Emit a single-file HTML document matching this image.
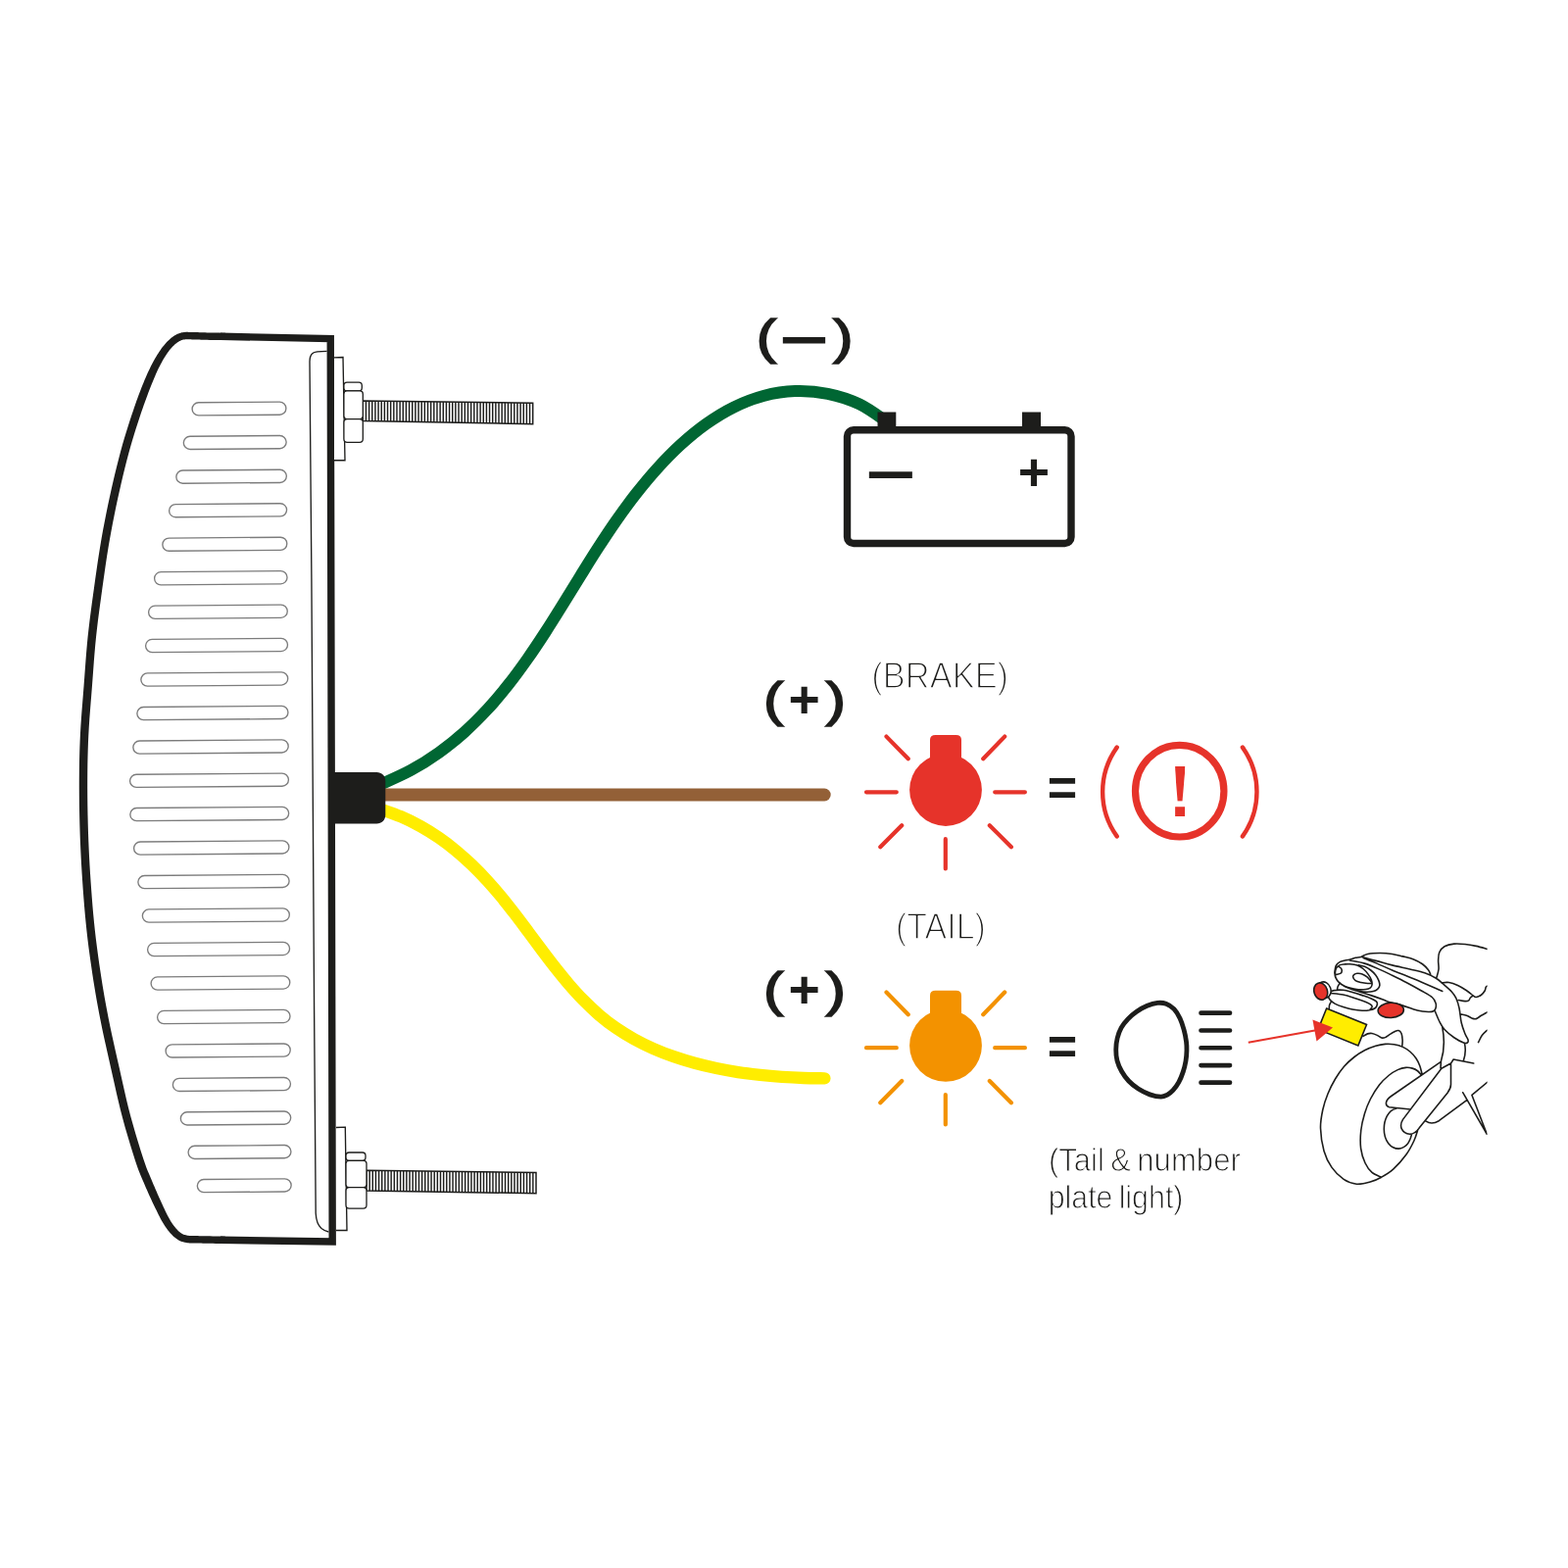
<!DOCTYPE html>
<html lang="en">
<head>
<meta charset="utf-8">
<title>Tail light wiring diagram</title>
<style>
html,body{margin:0;padding:0;background:#fff;}
body{width:1600px;height:1600px;overflow:hidden;font-family:"Liberation Sans",sans-serif;}
svg{display:block;}
</style>
</head>
<body>
<svg width="1600" height="1600" viewBox="0 0 1600 1600" style="will-change:transform">
<rect width="1600" height="1600" fill="#fff"/>
<path d="M339.2,1266.9 L337.25,345.6 L188,342.6 C150,360 95,600 85.4,800 C90,1000 150,1240 190,1264.5 Z" fill="#fff" stroke="none"/>
<path d="M230.06,339.68 L226.88,339.63 L223.63,339.58 L220.38,339.53 L217.21,339.48 L214.17,339.43 L211.33,339.38 L209.27,339.33 L207.3,339.28 L205.41,339.23 L203.58,339.17 L201.82,339.12 L200.1,339.08 L198.77,339.04 L197.47,338.99 L196.2,338.94 L194.95,338.91 L193.71,338.88 L192.48,338.88 L191.61,338.87 L190.71,338.86 L189.76,338.86 L188.75,338.89 L187.67,338.97 L186.52,339.14 L185.41,339.37 L184.3,339.66 L183.19,340 L182.09,340.4 L180.99,340.86 L179.9,341.38 L178.73,342.03 L177.6,342.73 L176.52,343.48 L175.46,344.27 L174.44,345.09 L173.45,345.93 L172.33,346.94 L171.24,347.99 L170.16,349.09 L169.11,350.23 L168.08,351.41 L167.06,352.63 L165.91,354.09 L164.77,355.62 L163.66,357.18 L162.58,358.79 L161.51,360.43 L160.46,362.08 L159.32,363.94 L158.21,365.85 L157.11,367.79 L156.03,369.77 L154.97,371.79 L153.92,373.84 L152.78,376.13 L151.67,378.48 L150.58,380.86 L149.51,383.27 L148.46,385.69 L147.43,388.11 L146.37,390.65 L145.32,393.21 L144.3,395.8 L143.3,398.39 L142.32,400.97 L141.36,403.54 L140.46,405.98 L139.6,408.34 L138.75,410.7 L137.89,413.15 L136.99,415.78 L136.02,418.67 L134.37,423.61 L132.57,429.1 L130.66,435.01 L128.71,441.2 L126.79,447.53 L124.96,453.86 L122.99,461.03 L121.05,468.41 L119.15,475.95 L117.29,483.61 L115.47,491.33 L113.7,499.08 L111.89,507.27 L110.12,515.58 L108.39,523.98 L106.73,532.41 L105.13,540.86 L103.61,549.27 L102.19,557.64 L100.86,566.01 L99.6,574.37 L98.38,582.73 L97.2,591.08 L96.04,599.42 L94.88,607.75 L93.73,616.09 L92.62,624.44 L91.55,632.8 L90.55,641.18 L89.62,649.56 L88.8,657.94 L88.08,666.31 L87.42,674.67 L86.8,683.02 L86.19,691.36 L85.56,699.68 L84.9,708.03 L84.22,716.42 L83.55,724.83 L82.92,733.22 L82.36,741.56 L81.9,749.8 L81.57,757.41 L81.3,764.87 L81.1,772.26 L80.95,779.68 L80.86,787.22 L80.8,794.98 L80.79,803.89 L80.84,813.06 L80.94,822.38 L81.11,831.75 L81.33,841.04 L81.6,850.14 L81.91,858.64 L82.28,867.04 L82.69,875.38 L83.15,883.67 L83.66,891.97 L84.21,900.29 L84.8,908.64 L85.43,917 L86.1,925.36 L86.84,933.73 L87.64,942.1 L88.53,950.46 L89.51,958.91 L90.57,967.43 L91.71,975.94 L92.9,984.36 L94.12,992.63 L95.35,1000.65 L96.46,1007.56 L97.57,1014.22 L98.7,1020.75 L99.89,1027.28 L101.14,1033.93 L102.48,1040.81 L104.12,1048.88 L105.87,1057.15 L107.71,1065.57 L109.6,1074.06 L111.51,1082.54 L113.4,1090.93 L115.27,1099.25 L117.12,1107.6 L119,1115.96 L120.94,1124.34 L122.97,1132.71 L125.14,1141.09 L127.57,1149.88 L130.23,1159.09 L132.98,1168.29 L135.69,1177.03 L138.22,1184.88 L140.44,1191.4 L141.45,1194.17 L142.38,1196.56 L143.25,1198.69 L144.1,1200.68 L144.94,1202.64 L145.82,1204.72 L146.82,1207.1 L147.85,1209.51 L148.9,1211.94 L149.96,1214.37 L151.03,1216.79 L152.11,1219.18 L153.17,1221.51 L154.24,1223.83 L155.31,1226.14 L156.4,1228.44 L157.49,1230.72 L158.58,1232.97 L159.63,1235.11 L160.68,1237.27 L161.75,1239.43 L162.83,1241.57 L163.92,1243.64 L165.03,1245.64 L165.95,1247.22 L166.87,1248.75 L167.8,1250.23 L168.75,1251.68 L169.71,1253.08 L170.71,1254.45 L171.62,1255.64 L172.55,1256.8 L173.5,1257.94 L174.48,1259.04 L175.49,1260.11 L176.54,1261.13 L177.47,1261.97 L178.43,1262.8 L179.43,1263.59 L180.46,1264.35 L181.53,1265.05 L182.66,1265.69 L183.74,1266.22 L184.81,1266.64 L185.83,1266.99 L186.8,1267.28 L187.7,1267.51 L188.5,1267.72 L189.13,1267.86 L189.73,1267.99 L190.33,1268.09 L190.92,1268.18 L191.52,1268.25 L192.15,1268.31 L193.35,1268.39 L194.59,1268.44 L195.89,1268.47 L197.23,1268.49 L198.58,1268.5 L199.92,1268.52 L201.64,1268.56 L203.41,1268.59 L205.24,1268.62 L207.14,1268.65 L209.12,1268.69 L211.18,1268.72 L214.02,1268.78 L217.07,1268.85 L220.25,1268.91 L223.49,1268.98 L226.74,1269.06 L229.92,1269.12 L230.08,1261.68 L226.9,1261.61 L223.65,1261.54 L220.41,1261.47 L217.23,1261.4 L214.18,1261.33 L211.32,1261.28 L209.25,1261.24 L207.27,1261.2 L205.36,1261.17 L203.54,1261.14 L201.78,1261.11 L200.08,1261.08 L198.67,1261.05 L197.3,1261.04 L196.01,1261.02 L194.81,1261 L193.74,1260.95 L192.85,1260.89 L192.3,1260.84 L191.86,1260.79 L191.48,1260.73 L191.13,1260.67 L190.75,1260.59 L190.3,1260.48 L189.55,1260.3 L188.81,1260.1 L188.07,1259.88 L187.37,1259.64 L186.72,1259.38 L186.14,1259.11 L185.45,1258.71 L184.73,1258.23 L183.98,1257.67 L183.21,1257.06 L182.44,1256.39 L181.66,1255.67 L180.85,1254.87 L180.03,1254 L179.22,1253.06 L178.4,1252.07 L177.59,1251.03 L176.79,1249.95 L175.93,1248.74 L175.09,1247.48 L174.26,1246.17 L173.44,1244.8 L172.61,1243.36 L171.77,1241.86 L170.79,1240.02 L169.81,1238.06 L168.82,1236 L167.82,1233.87 L166.82,1231.7 L165.82,1229.53 L164.79,1227.29 L163.76,1225.03 L162.74,1222.75 L161.72,1220.45 L160.7,1218.14 L159.69,1215.82 L158.66,1213.44 L157.63,1211.04 L156.6,1208.63 L155.57,1206.22 L154.56,1203.84 L153.58,1201.48 L152.66,1199.33 L151.82,1197.36 L151,1195.44 L150.18,1193.44 L149.31,1191.21 L148.36,1188.6 L146.2,1182.24 L143.7,1174.5 L141.02,1165.84 L138.29,1156.72 L135.65,1147.59 L133.26,1138.91 L131.12,1130.67 L129.11,1122.4 L127.19,1114.1 L125.32,1105.78 L123.47,1097.43 L121.6,1089.07 L119.7,1080.68 L117.79,1072.22 L115.91,1063.76 L114.08,1055.39 L112.34,1047.17 L110.72,1039.19 L109.39,1032.35 L108.15,1025.76 L106.97,1019.28 L105.85,1012.81 L104.75,1006.21 L103.65,999.35 L102.42,991.37 L101.21,983.16 L100.03,974.79 L98.9,966.35 L97.85,957.9 L96.87,949.54 L96,941.25 L95.2,932.96 L94.47,924.66 L93.8,916.35 L93.18,908.03 L92.59,899.71 L92.04,891.43 L91.53,883.18 L91.08,874.93 L90.67,866.65 L90.31,858.31 L90,849.86 L89.73,840.81 L89.51,831.57 L89.34,822.26 L89.24,812.99 L89.19,803.87 L89.2,795.02 L89.26,787.31 L89.35,779.82 L89.5,772.46 L89.7,765.14 L89.96,757.75 L90.3,750.2 L90.75,742.08 L91.3,733.82 L91.93,725.49 L92.6,717.1 L93.28,708.7 L93.94,700.32 L94.56,691.97 L95.17,683.63 L95.79,675.31 L96.45,667 L97.17,658.71 L97.98,650.44 L98.89,642.14 L99.89,633.84 L100.95,625.53 L102.06,617.22 L103.2,608.9 L104.36,600.58 L105.52,592.24 L106.7,583.91 L107.91,575.6 L109.16,567.29 L110.48,559 L111.89,550.73 L113.39,542.38 L114.98,534.01 L116.63,525.64 L118.34,517.31 L120.1,509.06 L121.9,500.92 L123.65,493.23 L125.46,485.56 L127.3,477.97 L129.18,470.51 L131.1,463.21 L133.04,456.14 L134.84,449.92 L136.74,443.68 L138.66,437.56 L140.55,431.7 L142.35,426.25 L143.98,421.33 L144.94,418.48 L145.83,415.91 L146.67,413.51 L147.5,411.2 L148.34,408.88 L149.24,406.46 L150.19,403.92 L151.14,401.37 L152.11,398.82 L153.09,396.28 L154.08,393.77 L155.07,391.29 L156.05,388.89 L157.04,386.5 L158.04,384.14 L159.04,381.82 L160.06,379.56 L161.08,377.36 L162.05,375.37 L163.02,373.43 L164.01,371.52 L165.01,369.67 L166.02,367.87 L167.04,366.12 L168.01,364.53 L168.98,362.98 L169.97,361.47 L170.95,360.03 L171.95,358.66 L172.94,357.37 L173.83,356.27 L174.73,355.22 L175.63,354.22 L176.54,353.28 L177.44,352.4 L178.35,351.57 L179.21,350.84 L180.05,350.15 L180.89,349.52 L181.71,348.95 L182.51,348.45 L183.3,348.02 L184.04,347.66 L184.8,347.34 L185.57,347.06 L186.34,346.82 L187.11,346.62 L187.88,346.46 L188.48,346.38 L189.12,346.33 L189.83,346.31 L190.62,346.31 L191.52,346.32 L192.52,346.32 L193.61,346.33 L194.75,346.35 L195.95,346.39 L197.2,346.44 L198.52,346.48 L199.9,346.52 L201.61,346.57 L203.37,346.62 L205.2,346.67 L207.1,346.73 L209.09,346.78 L211.17,346.82 L214.03,346.88 L217.09,346.93 L220.27,346.98 L223.52,347.03 L226.76,347.08 L229.94,347.12 Z" fill="#1d1d1b"/>
<path d="M225,1265.3 L339.2,1266.9 L337.25,345.6 L225,343.3" fill="none" stroke="#1d1d1b" stroke-width="7.4" stroke-linejoin="miter"/>
<path d="M333.6,358.4 C327,358.4 321,358.8 319,360.5 C316.6,362.5 316,365 316,369 L317.9,590 L320.6,1030 L322.2,1238 C322.6,1246 324.5,1250.5 328,1253.5 C330.5,1255.5 333,1256.6 335.3,1257" fill="none" stroke="#1d1d1b" stroke-width="1.35"/>
<g fill="none" stroke="#7c7c7c" stroke-width="1.35">
<rect x="196.1" y="410.4" width="95.8" height="13.2" rx="6.6" transform="rotate(-0.45 244 417)"/>
<rect x="187.35" y="444.9" width="104.78" height="13.2" rx="6.6" transform="rotate(-0.45 239.74 451.5)"/>
<rect x="179.85" y="479.65" width="112.51" height="13.2" rx="6.6" transform="rotate(-0.45 236.1 486.25)"/>
<rect x="172.6" y="514.15" width="119.98" height="13.2" rx="6.6" transform="rotate(-0.45 232.59 520.75)"/>
<rect x="165.85" y="548.65" width="126.96" height="13.2" rx="6.6" transform="rotate(-0.45 229.33 555.25)"/>
<rect x="157.6" y="583.15" width="135.44" height="13.2" rx="6.6" transform="rotate(-0.45 225.32 589.75)"/>
<rect x="151.6" y="617.65" width="141.67" height="13.2" rx="6.6" transform="rotate(-0.45 222.43 624.25)"/>
<rect x="148.6" y="651.9" width="144.9" height="13.2" rx="6.6" transform="rotate(-0.45 221.05 658.5)"/>
<rect x="143.85" y="686.4" width="149.88" height="13.2" rx="6.6" transform="rotate(-0.45 218.79 693)"/>
<rect x="139.85" y="720.9" width="154.1" height="13.2" rx="6.6" transform="rotate(-0.45 216.9 727.5)"/>
<rect x="135.85" y="755.4" width="158.33" height="13.2" rx="6.6" transform="rotate(-0.45 215.02 762)"/>
<rect x="132.6" y="789.65" width="161.81" height="13.2" rx="6.6" transform="rotate(-0.45 213.51 796.25)"/>
<rect x="132.85" y="823.9" width="161.79" height="13.2" rx="6.6" transform="rotate(-0.45 213.74 830.5)"/>
<rect x="136.6" y="858.4" width="158.27" height="13.2" rx="6.6" transform="rotate(-0.45 215.73 865)"/>
<rect x="140.85" y="892.9" width="154.25" height="13.2" rx="6.6" transform="rotate(-0.45 217.97 899.5)"/>
<rect x="145.35" y="927.4" width="149.97" height="13.2" rx="6.6" transform="rotate(-0.45 220.34 934)"/>
<rect x="150.6" y="961.9" width="144.95" height="13.2" rx="6.6" transform="rotate(-0.45 223.08 968.5)"/>
<rect x="154.1" y="996.4" width="141.68" height="13.2" rx="6.6" transform="rotate(-0.45 224.94 1003)"/>
<rect x="160.6" y="1030.9" width="135.41" height="13.2" rx="6.6" transform="rotate(-0.45 228.3 1037.5)"/>
<rect x="169.1" y="1065.4" width="127.14" height="13.2" rx="6.6" transform="rotate(-0.45 232.67 1072)"/>
<rect x="176.35" y="1099.9" width="120.12" height="13.2" rx="6.6" transform="rotate(-0.45 236.41 1106.5)"/>
<rect x="184.35" y="1134.4" width="112.34" height="13.2" rx="6.6" transform="rotate(-0.45 240.52 1141)"/>
<rect x="192.1" y="1168.9" width="104.82" height="13.2" rx="6.6" transform="rotate(-0.45 244.51 1175.5)"/>
<rect x="201.35" y="1203.15" width="95.8" height="13.2" rx="6.6" transform="rotate(-0.45 249.25 1209.75)"/>
</g>
<path d="M341,364.8 L350,364.5 L352,469.7 L341,469.7" fill="#fff" stroke="#1d1d1b" stroke-width="1.35"/>
<path d="M370.3,409 L543.7,411.2 L543.7,432.7 L370.3,429.4 Z" fill="#fff" stroke="#1d1d1b" stroke-width="1.5"/>
<path d="M373.45,409.04 V429.46M376.61,409.08 V429.52M379.76,409.12 V429.58M382.91,409.16 V429.64M386.06,409.2 V429.7M389.22,409.24 V429.76M392.37,409.28 V429.82M395.52,409.32 V429.88M398.67,409.36 V429.94M401.83,409.4 V430M404.98,409.44 V430.06M408.13,409.48 V430.12M411.29,409.52 V430.18M414.44,409.56 V430.24M417.59,409.6 V430.3M420.74,409.64 V430.36M423.9,409.68 V430.42M427.05,409.72 V430.48M430.2,409.76 V430.54M433.35,409.8 V430.6M436.51,409.84 V430.66M439.66,409.88 V430.72M442.81,409.92 V430.78M445.97,409.96 V430.84M449.12,410 V430.9M452.27,410.04 V430.96M455.42,410.08 V431.02M458.58,410.12 V431.08M461.73,410.16 V431.14M464.88,410.2 V431.2M468.03,410.24 V431.26M471.19,410.28 V431.32M474.34,410.32 V431.38M477.49,410.36 V431.44M480.65,410.4 V431.5M483.8,410.44 V431.56M486.95,410.48 V431.62M490.1,410.52 V431.68M493.26,410.56 V431.74M496.41,410.6 V431.8M499.56,410.64 V431.86M502.71,410.68 V431.92M505.87,410.72 V431.98M509.02,410.76 V432.04M512.17,410.8 V432.1M515.33,410.84 V432.16M518.48,410.88 V432.22M521.63,410.92 V432.28M524.78,410.96 V432.34M527.94,411 V432.4M531.09,411.04 V432.46M534.24,411.08 V432.52M537.39,411.12 V432.58M540.55,411.16 V432.64" fill="none" stroke="#1d1d1b" stroke-width="1.45"/>
<rect x="350.9" y="390.2" width="18.4" height="8.7" rx="3.2" fill="#fff" stroke="#1d1d1b" stroke-width="1.3"/>
<rect x="350.9" y="398.9" width="19.4" height="28.7" rx="3" fill="#fff" stroke="#1d1d1b" stroke-width="1.3"/>
<rect x="350.9" y="427.6" width="19.4" height="23.7" rx="3.4" fill="#fff" stroke="#1d1d1b" stroke-width="1.3"/>
<path d="M343,1150.5 L352.3,1150.2 L354,1255.5 L343,1255.5" fill="#fff" stroke="#1d1d1b" stroke-width="1.35"/>
<path d="M374,1194.3 L547,1196.4 L547,1217.7 L374,1215.1 Z" fill="#fff" stroke="#1d1d1b" stroke-width="1.5"/>
<path d="M377.15,1194.34 V1215.15M380.29,1194.38 V1215.19M383.44,1194.41 V1215.24M386.58,1194.45 V1215.29M389.73,1194.49 V1215.34M392.87,1194.53 V1215.38M396.02,1194.57 V1215.43M399.16,1194.61 V1215.48M402.31,1194.64 V1215.53M405.45,1194.68 V1215.57M408.6,1194.72 V1215.62M411.75,1194.76 V1215.67M414.89,1194.8 V1215.71M418.04,1194.83 V1215.76M421.18,1194.87 V1215.81M424.33,1194.91 V1215.86M427.47,1194.95 V1215.9M430.62,1194.99 V1215.95M433.76,1195.03 V1216M436.91,1195.06 V1216.05M440.05,1195.1 V1216.09M443.2,1195.14 V1216.14M446.35,1195.18 V1216.19M449.49,1195.22 V1216.23M452.64,1195.25 V1216.28M455.78,1195.29 V1216.33M458.93,1195.33 V1216.38M462.07,1195.37 V1216.42M465.22,1195.41 V1216.47M468.36,1195.45 V1216.52M471.51,1195.48 V1216.57M474.65,1195.52 V1216.61M477.8,1195.56 V1216.66M480.95,1195.6 V1216.71M484.09,1195.64 V1216.75M487.24,1195.67 V1216.8M490.38,1195.71 V1216.85M493.53,1195.75 V1216.9M496.67,1195.79 V1216.94M499.82,1195.83 V1216.99M502.96,1195.87 V1217.04M506.11,1195.9 V1217.09M509.25,1195.94 V1217.13M512.4,1195.98 V1217.18M515.55,1196.02 V1217.23M518.69,1196.06 V1217.27M521.84,1196.09 V1217.32M524.98,1196.13 V1217.37M528.13,1196.17 V1217.42M531.27,1196.21 V1217.46M534.42,1196.25 V1217.51M537.56,1196.29 V1217.56M540.71,1196.32 V1217.61M543.85,1196.36 V1217.65" fill="none" stroke="#1d1d1b" stroke-width="1.45"/>
<rect x="353" y="1176" width="20" height="8.3" rx="3.2" fill="#fff" stroke="#1d1d1b" stroke-width="1.3"/>
<rect x="353" y="1184.3" width="21" height="27.4" rx="3" fill="#fff" stroke="#1d1d1b" stroke-width="1.3"/>
<rect x="353" y="1211.7" width="21" height="21.5" rx="3.4" fill="#fff" stroke="#1d1d1b" stroke-width="1.3"/>
<path d="M386.42,801.35 C391.86,798.8 408.76,791.66 419.04,786.06 C429.32,780.47 438.91,774.32 448.08,767.79 C457.24,761.26 465.81,754.24 474.03,746.9 C482.24,739.57 489.94,731.8 497.37,723.79 C504.79,715.77 511.79,707.39 518.59,698.82 C525.39,690.25 531.84,681.38 538.18,672.38 C544.52,663.39 550.58,654.15 556.62,644.86 C562.66,635.57 568.5,626.09 574.4,616.63 C580.3,607.17 586.09,597.58 592.02,588.07 C597.94,578.56 603.83,569 609.94,559.57 C616.05,550.14 622.21,540.72 628.67,531.5 C635.13,522.28 641.72,513.14 648.69,504.25 C655.65,495.37 662.86,486.59 670.48,478.2 C678.1,469.82 686.07,461.54 694.41,453.94 C702.74,446.35 711.44,439.04 720.49,432.64 C729.54,426.24 738.94,420.34 748.69,415.56 C758.44,410.78 768.55,406.71 778.98,403.97 C789.42,401.23 800.35,399.47 811.3,399.11 C822.25,398.75 833.73,399.61 844.68,401.82 C855.63,404.04 866.77,407.52 876.99,412.39 C887.21,417.27 901.17,427.95 906.01,431.07" fill="none" stroke="#006633" stroke-width="12"/>
<path d="M388,811 H841.3" fill="none" stroke="#936037" stroke-width="12.8" stroke-linecap="round"/>
<path d="M387.48,825.33 C391.09,826.66 402.21,830.34 409.18,833.32 C416.16,836.31 422.84,839.65 429.31,843.25 C435.79,846.85 442,850.77 448.02,854.92 C454.05,859.08 459.84,863.52 465.47,868.16 C471.09,872.81 476.51,877.71 481.79,882.78 C487.08,887.85 492.18,893.16 497.16,898.6 C502.15,904.04 506.98,909.68 511.73,915.42 C516.48,921.16 521.09,927.09 525.67,933.03 C530.26,938.98 534.74,945.06 539.25,951.1 C543.76,957.14 548.22,963.25 552.74,969.26 C557.27,975.27 561.79,981.29 566.43,987.15 C571.07,993.01 575.73,998.83 580.57,1004.43 C585.41,1010.02 590.33,1015.51 595.46,1020.72 C600.59,1025.93 605.85,1030.97 611.37,1035.68 C616.88,1040.38 622.6,1044.83 628.56,1048.95 C634.51,1053.06 640.73,1056.86 647.11,1060.38 C653.48,1063.9 660.09,1067.11 666.82,1070.07 C673.55,1073.04 680.47,1075.71 687.49,1078.16 C694.5,1080.61 701.67,1082.79 708.9,1084.77 C716.13,1086.75 723.48,1088.47 730.86,1090.02 C738.23,1091.57 745.69,1092.89 753.14,1094.04 C760.59,1095.2 768.09,1096.15 775.54,1096.96 C782.99,1097.77 790.47,1098.39 797.85,1098.9 C805.24,1099.4 812.61,1099.74 819.87,1099.98 C827.12,1100.23 837.79,1100.28 841.37,1100.34" fill="none" stroke="#ffed00" stroke-width="12.4" stroke-linecap="round"/>
<path d="M341,788.1 H384.3 C389.5,788.1 393.3,791.9 393.3,797.1 V831.5 C393.3,836.7 389.5,840.5 384.3,840.5 H341 Z" fill="#1d1d1b"/>
<rect x="895.5" y="420.5" width="18.8" height="18" fill="#1d1d1b"/>
<rect x="1043" y="420.5" width="19" height="18" fill="#1d1d1b"/>
<rect x="864.5" y="438.8" width="228.5" height="115.7" rx="6.5" fill="#fff" stroke="#1d1d1b" stroke-width="7.4"/>
<text transform="matrix(0.8791 0 0 0.6136 883.48 504.98)" font-family="'Liberation Sans', sans-serif" font-weight="bold" font-size="100" fill="#1d1d1b">−</text>
<text transform="matrix(0.5550 0 0 0.5412 1038.85 500.15)" font-family="'Liberation Sans', sans-serif" font-weight="bold" font-size="100" fill="#1d1d1b">+</text>
<g><text transform="matrix(0.6152 0 0 0.4907 771.7 361.16)" font-family="'Liberation Sans', sans-serif" font-weight="normal" font-size="100" fill="#1d1d1b" stroke="#1d1d1b" stroke-width="3.26">(</text><text transform="matrix(0.8642 0 0 0.5909 795.29 366.6)" font-family="'Liberation Sans', sans-serif" font-weight="bold" font-size="100" fill="#1d1d1b">−</text><text transform="matrix(0.6152 0 0 0.4907 849.99 361.16)" font-family="'Liberation Sans', sans-serif" font-weight="normal" font-size="100" fill="#1d1d1b" stroke="#1d1d1b" stroke-width="3.26">)</text></g>
<g><text transform="matrix(0.6152 0 0 0.4918 779 730.84)" font-family="'Liberation Sans', sans-serif" font-weight="normal" font-size="100" fill="#1d1d1b" stroke="#1d1d1b" stroke-width="3.25">(</text><text transform="matrix(0.5540 0 0 0.5353 804.55 731.95)" font-family="'Liberation Sans', sans-serif" font-weight="bold" font-size="100" fill="#1d1d1b">+</text><text transform="matrix(0.6152 0 0 0.4918 842.49 730.84)" font-family="'Liberation Sans', sans-serif" font-weight="normal" font-size="100" fill="#1d1d1b" stroke="#1d1d1b" stroke-width="3.25">)</text></g>
<g><text transform="matrix(0.6152 0 0 0.4918 779 1027.34)" font-family="'Liberation Sans', sans-serif" font-weight="normal" font-size="100" fill="#1d1d1b" stroke="#1d1d1b" stroke-width="3.25">(</text><text transform="matrix(0.5540 0 0 0.5353 804.55 1028.45)" font-family="'Liberation Sans', sans-serif" font-weight="bold" font-size="100" fill="#1d1d1b">+</text><text transform="matrix(0.6152 0 0 0.4918 842.49 1027.34)" font-family="'Liberation Sans', sans-serif" font-weight="normal" font-size="100" fill="#1d1d1b" stroke="#1d1d1b" stroke-width="3.25">)</text></g>
<g fill="#e6332a" stroke="none">
<circle cx="965" cy="806" r="36.9"/>
<path d="M949,786 V755 Q949,749.9 954.5,749.9 H975.5 Q981,749.9 981,755 V786 Z"/>
</g>
<path d="M884,808.3 H914.8 M1015.2,808.3 H1045.9 M964.8,856.2 V886.5 M904.5,751.6 L926.75,774.3 M1025.2,751.6 L1003.25,774.3 M920.2,842.15 L898.3,864.3 M1009.8,842.15 L1031.9,864.3" fill="none" stroke="#e6332a" stroke-width="4.2" stroke-linecap="round"/>
<g fill="#f39200" stroke="none">
<circle cx="965" cy="1066.9" r="36.9"/>
<path d="M949,1046.9 V1015.9 Q949,1010.8 954.5,1010.8 H975.5 Q981,1010.8 981,1015.9 V1046.9 Z"/>
</g>
<path d="M884,1069.2 H914.8 M1015.2,1069.2 H1045.9 M964.8,1117.1 V1147.4 M904.5,1012.5 L926.75,1035.2 M1025.2,1012.5 L1003.25,1035.2 M920.2,1103.05 L898.3,1125.2 M1009.8,1103.05 L1031.9,1125.2" fill="none" stroke="#f39200" stroke-width="4.2" stroke-linecap="round"/>
<text transform="matrix(0.5225 0 0 0.5283 1068.81 821.57)" font-family="'Liberation Sans', sans-serif" font-weight="bold" font-size="100" fill="#1d1d1b">=</text>
<text transform="matrix(0.5225 0 0 0.5283 1068.81 1085.67)" font-family="'Liberation Sans', sans-serif" font-weight="bold" font-size="100" fill="#1d1d1b">=</text>
<g fill="none" stroke="#e6332a">
<ellipse cx="1203.7" cy="807.2" rx="45.2" ry="46.8" stroke-width="7.2"/>
<path d="M1139.7,762.6 A78,78 0 0 0 1139.7,853.4 M1267.9,762.6 A78,78 0 0 1 1267.9,853.4" stroke-width="4.4" stroke-linecap="round"/>
</g>
<clipPath id="exc"><path d="M1198.6,781 H1209.7 L1206.5,817.6 H1201.6 Z M1198,822 H1210 V834 H1198 Z"/></clipPath>
<g clip-path="url(#exc)"><text transform="matrix(0.7047 0 0 0.7362 1192.52 833)" font-family="'Liberation Sans', sans-serif" font-weight="bold" font-size="100" fill="#e6332a">!</text></g>
<path d="M1138.75,1070.94 C1138.78,1067.08 1139.25,1062.94 1140.16,1059.22 C1141.06,1055.5 1142.39,1051.86 1144.19,1048.62 C1145.98,1045.39 1148.33,1042.55 1150.94,1039.81 C1153.55,1037.08 1156.56,1034.47 1159.84,1032.22 C1163.12,1029.97 1167.11,1027.78 1170.62,1026.31 C1174.14,1024.84 1177.73,1023.75 1180.94,1023.41 C1184.14,1023.06 1187,1023.2 1189.84,1024.25 C1192.69,1025.3 1195.62,1027.19 1198,1029.69 C1200.37,1032.19 1202.41,1035.7 1204.09,1039.25 C1205.78,1042.8 1207.06,1047.06 1208.12,1050.97 C1209.19,1054.87 1210,1059.2 1210.47,1062.69 C1210.94,1066.17 1211.02,1068.55 1210.94,1071.87 C1210.86,1075.2 1210.61,1079.03 1210,1082.66 C1209.39,1086.28 1208.48,1090 1207.28,1093.62 C1206.08,1097.25 1204.48,1101.28 1202.78,1104.41 C1201.08,1107.53 1198.98,1110.27 1197.06,1112.37 C1195.14,1114.48 1193.31,1115.92 1191.25,1117.06 C1189.19,1118.2 1187.69,1119.25 1184.69,1119.22 C1181.69,1119.19 1177.11,1118.23 1173.25,1116.87 C1169.39,1115.52 1165.12,1113.37 1161.53,1111.06 C1157.94,1108.75 1154.52,1105.97 1151.69,1103 C1148.86,1100.03 1146.52,1096.69 1144.56,1093.25 C1142.61,1089.81 1140.94,1086.09 1139.97,1082.37 C1139,1078.66 1138.72,1074.8 1138.75,1070.94 Z" fill="none" stroke="#1d1d1b" stroke-width="4.8"/>
<path d="M1225.5,1033.7 H1255M1225.5,1051.5 H1255M1225.5,1069.25 H1255M1225.5,1087.1 H1255M1225.5,1104.7 H1255" fill="none" stroke="#1d1d1b" stroke-width="4.7" stroke-linecap="round"/>
<clipPath id="mc"><rect x="1300" y="900" width="217.6" height="400"/></clipPath>
<g clip-path="url(#mc)">
<path d="M1451,1095.75C1450.62,1094.38 1449.75,1090.12 1448.75,1087.5C1447.75,1084.88 1446.62,1082.38 1445,1080C1443.38,1077.62 1441.25,1075.19 1439,1073.25C1436.75,1071.31 1434.25,1069.62 1431.5,1068.38C1428.75,1067.12 1425.5,1066.25 1422.5,1065.75C1419.5,1065.25 1416.62,1065.12 1413.5,1065.38C1410.38,1065.62 1407.25,1066.19 1403.75,1067.25C1400.25,1068.31 1396.12,1069.88 1392.5,1071.75C1388.88,1073.62 1385.5,1075.75 1382,1078.5C1378.5,1081.25 1374.75,1084.5 1371.5,1088.25C1368.25,1092 1365.25,1096.38 1362.5,1101C1359.75,1105.62 1357.12,1110.75 1355,1116C1352.88,1121.25 1351,1126.62 1349.75,1132.5C1348.5,1138.38 1347.29,1144.25 1347.5,1151.25C1347.71,1158.25 1349.1,1167.85 1351,1174.5C1352.9,1181.15 1355.52,1186.31 1358.88,1191.12C1362.23,1195.94 1366.9,1200.53 1371.12,1203.38C1375.35,1206.22 1379.73,1207.75 1384.25,1208.19C1388.77,1208.62 1394.02,1207.17 1398.25,1206C1402.48,1204.83 1405.69,1203.38 1409.62,1201.19C1413.56,1199 1417.65,1196.74 1421.88,1192.88C1426.1,1189.01 1431.5,1182.81 1435,1178C1438.5,1173.19 1440.91,1168.23 1442.88,1164C1444.84,1159.77 1446.16,1154.52 1446.81,1152.62M1450.25,1096.88C1449.62,1096.19 1448,1093.88 1446.5,1092.75C1445,1091.62 1443.25,1090.69 1441.25,1090.12C1439.25,1089.56 1437,1089.12 1434.5,1089.38C1432,1089.62 1429.12,1090.31 1426.25,1091.62C1423.38,1092.94 1420.38,1094.69 1417.25,1097.25C1414.12,1099.81 1410.62,1103 1407.5,1107C1404.38,1111 1401,1116.38 1398.5,1121.25C1396,1126.12 1394.12,1130.88 1392.5,1136.25C1390.88,1141.62 1389.4,1147.56 1388.75,1153.5C1388.1,1159.44 1387.92,1166.33 1388.62,1171.88C1389.33,1177.42 1391.1,1182.67 1393,1186.75C1394.9,1190.83 1397.23,1193.97 1400,1196.38C1402.77,1198.78 1408.02,1200.39 1409.62,1201.19M1424.5,1131.17C1416.62,1132.75 1412.25,1142.38 1412.25,1152C1412.25,1164.25 1419.25,1172.12 1427.12,1172.12C1434.12,1171.69 1438.5,1166 1440.42,1157.69M1470,1083.58L1419.25,1118.75C1413.12,1123.12 1413.12,1128.38 1417.5,1129.69L1439.38,1132.05M1480.5,1085.06L1470.88,1090.31L1431.5,1142.38C1427.12,1149.38 1430.62,1156.38 1438.5,1157.25C1443.75,1157.25 1446.38,1153.75 1448.12,1151.12L1477,1115.25C1479.62,1111.75 1480.5,1110 1480.5,1106.5ZM1455.12,1144.12C1459.5,1147.19 1463.88,1146.31 1468.25,1143.69L1496.69,1122.69M1492.75,1114.81L1517.25,1157.25L1501.94,1117.44L1517.69,1104.31M1480.5,1085.06L1483.12,1080.95L1503.69,1085.06M1471.75,1047.88C1473.94,1059.25 1473.5,1073.25 1470.44,1082.88L1470,1089.88M1494.5,1064.94C1495.81,1070.62 1495.38,1076.75 1493.19,1082.88M1391,1057.5C1391.75,1057.06 1394,1055.38 1395.5,1054.88C1397,1054.38 1398.38,1054.25 1400,1054.5C1401.62,1054.75 1403.62,1055.62 1405.25,1056.38C1406.88,1057.12 1408.38,1058.62 1409.75,1059C1411.12,1059.38 1412.12,1059.19 1413.5,1058.62C1414.88,1058.06 1416.5,1056.56 1418,1055.62C1419.5,1054.69 1421,1053.69 1422.5,1053C1424,1052.31 1425.75,1051.25 1427,1051.5C1428.25,1051.75 1429.31,1052.88 1430,1054.5C1430.69,1056.12 1431,1059.1 1431.12,1061.25C1431.25,1063.4 1430.81,1066.38 1430.75,1067.4M1465.75,998C1466.12,996.5 1467.69,992 1468,989C1468.31,986 1467.5,982.88 1467.62,980C1467.75,977.12 1467.69,974.12 1468.75,971.75C1469.81,969.38 1471.5,967.19 1474,965.75C1476.5,964.31 1480.25,963.5 1483.75,963.12C1487.25,962.75 1491.25,963.12 1495,963.5C1498.75,963.88 1502.5,964.56 1506.25,965.38C1510,966.19 1515.62,967.88 1517.5,968.38M1471,1002.88C1472.25,1002.81 1475.75,1002.06 1478.5,1002.5C1481.25,1002.94 1484.5,1004.12 1487.5,1005.5C1490.5,1006.88 1493.88,1009 1496.5,1010.75C1499.12,1012.5 1502.12,1015.12 1503.25,1016M1503.25,1016C1502.75,1016.38 1501,1017.44 1500.25,1018.25C1499.5,1019.06 1499.62,1020.31 1498.75,1020.88C1497.88,1021.44 1496.75,1021.69 1495,1021.62C1493.25,1021.56 1489.38,1020.69 1488.25,1020.5M1503.25,1016C1503.75,1016.25 1504.88,1017.62 1506.25,1017.5C1507.62,1017.38 1510,1016.38 1511.5,1015.25C1513,1014.12 1514.44,1012.12 1515.25,1010.75C1516.06,1009.38 1515.62,1007.88 1516.38,1007C1517.12,1006.12 1519.19,1005.75 1519.75,1005.5M1491.25,1035.12C1492.12,1035.31 1494.62,1035.56 1496.5,1036.25C1498.38,1036.94 1500.88,1038.69 1502.5,1039.25C1504.12,1039.81 1504.75,1040.12 1506.25,1039.62C1507.75,1039.12 1509.62,1037.38 1511.5,1036.25C1513.38,1035.12 1516.5,1033.44 1517.5,1032.88M1517.5,1051.25C1516.62,1052.12 1513.75,1054.44 1512.25,1056.5C1510.75,1058.56 1509.12,1062.44 1508.5,1063.62M1361.88,992.5C1362.08,991.35 1362.19,987.48 1363.12,985.62C1364.06,983.77 1365.73,982.36 1367.5,981.38C1369.27,980.39 1372.19,980.04 1373.75,979.69C1375.31,979.33 1375.31,979.65 1376.88,979.25C1378.44,978.85 1381.15,977.78 1383.12,977.31C1385.1,976.84 1386.67,977.08 1388.75,976.44C1390.83,975.79 1392.4,974.09 1395.62,973.44C1398.85,972.78 1403.96,972.5 1408.12,972.5C1412.29,972.5 1416.77,972.88 1420.62,973.44C1424.48,974 1427.6,974.97 1431.25,975.88C1434.9,976.78 1439.12,977.56 1442.5,978.88C1445.88,980.19 1449,981.94 1451.5,983.75C1454,985.56 1456.12,988 1457.5,989.75C1458.88,991.5 1459.38,993.5 1459.75,994.25M1390,976.56C1392.5,977.24 1399.9,979.24 1405,980.62C1410.1,982.01 1415,983.48 1420.62,984.88C1426.25,986.27 1433.23,987.69 1438.75,989C1444.27,990.31 1449.38,991.25 1453.75,992.75C1458.12,994.25 1461.88,996.12 1465,998C1468.12,999.88 1469.75,1001.62 1472.5,1004C1475.25,1006.38 1479.25,1009.75 1481.5,1012.25C1483.75,1014.75 1484.75,1016.25 1486,1019C1487.25,1021.75 1488.12,1024.62 1489,1028.75C1489.88,1032.88 1490.25,1039.38 1491.25,1043.75C1492.25,1048.12 1493.88,1052.12 1495,1055C1496.12,1057.88 1497.62,1059.5 1498,1061C1498.38,1062.5 1498,1063.5 1497.25,1064C1496.5,1064.5 1495.75,1064.88 1493.5,1064C1491.25,1063.12 1487,1061 1483.75,1058.75C1480.5,1056.5 1476.5,1053.25 1474,1050.5C1471.5,1047.75 1470.38,1045.38 1468.75,1042.25C1467.12,1039.12 1465,1033.5 1464.25,1031.75M1391.25,977.5C1393.54,978.44 1400.1,981.04 1405,983.12C1409.9,985.21 1414.38,987.4 1420.62,990C1426.88,992.6 1433.98,995.17 1442.5,998.75C1451.02,1002.33 1466.88,1009.38 1471.75,1011.5M1377.5,980C1380,980.52 1387.4,981.56 1392.5,983.12C1397.6,984.69 1403.44,987.34 1408.12,989.38C1412.81,991.41 1416.15,993.12 1420.62,995.31C1425.1,997.5 1430.1,999.93 1435,1002.5C1439.9,1005.07 1445.62,1008.25 1450,1010.75C1454.38,1013.25 1458.75,1015.38 1461.25,1017.5C1463.75,1019.62 1464.38,1021.62 1465,1023.5C1465.62,1025.38 1465.38,1027.38 1465,1028.75C1464.62,1030.12 1464,1031.12 1462.75,1031.75C1461.5,1032.38 1460.25,1032.62 1457.5,1032.5C1454.75,1032.38 1450.83,1032.15 1446.25,1031C1441.67,1029.85 1434.79,1027.04 1430,1025.62C1425.21,1024.21 1420.62,1023.44 1417.5,1022.5C1414.38,1021.56 1414.38,1021.15 1411.25,1020C1408.12,1018.85 1403.12,1017.08 1398.75,1015.62C1394.38,1014.17 1387.29,1011.98 1385,1011.25M1361.88,992.5C1362.03,993.33 1362.08,995.83 1362.81,997.5C1363.54,999.17 1364.64,1000.94 1366.25,1002.5C1367.86,1004.06 1370.21,1005.68 1372.5,1006.88C1374.79,1008.07 1377.5,1008.91 1380,1009.69C1382.5,1010.47 1385,1011.15 1387.5,1011.56C1390,1011.98 1392.71,1012.19 1395,1012.19C1397.29,1012.19 1399.48,1012.03 1401.25,1011.56C1403.02,1011.09 1404.53,1010.36 1405.62,1009.38C1406.72,1008.39 1407.6,1007.08 1407.81,1005.62C1408.02,1004.17 1407.55,1002.4 1406.88,1000.62C1406.2,998.85 1405.1,996.77 1403.75,995C1402.4,993.23 1400.62,991.46 1398.75,990C1396.88,988.54 1394.58,987.14 1392.5,986.25C1390.42,985.36 1387.29,984.95 1386.25,984.69M1362.38,993.12C1362.45,991.56 1362.69,989.5 1363.44,988.12C1364.19,986.75 1365.47,985.57 1366.88,984.88C1368.28,984.18 1370.21,984.12 1371.88,983.94C1373.54,983.75 1374.69,983.57 1376.88,983.75C1379.06,983.93 1382.6,984.17 1385,985C1387.4,985.83 1389.38,987.19 1391.25,988.75C1393.12,990.31 1394.9,992.5 1396.25,994.38C1397.6,996.25 1398.75,998.23 1399.38,1000C1400,1001.77 1400.21,1003.65 1400,1005C1399.79,1006.35 1399.17,1007.38 1398.12,1008.12C1397.08,1008.88 1395.73,1009.23 1393.75,1009.5C1391.77,1009.77 1388.65,1009.9 1386.25,1009.75C1383.85,1009.6 1381.67,1009.19 1379.38,1008.62C1377.08,1008.06 1374.69,1007.44 1372.5,1006.38C1370.31,1005.31 1367.83,1003.73 1366.25,1002.25C1364.67,1000.77 1363.65,999.02 1363,997.5C1362.35,995.98 1362.3,994.69 1362.38,993.12ZM1380.62,996.88C1380.42,995.83 1381.15,994.97 1381.88,994.38C1382.6,993.78 1383.65,993.4 1385,993.31C1386.35,993.23 1388.33,993.28 1390,993.88C1391.67,994.47 1393.54,995.65 1395,996.88C1396.46,998.1 1397.97,1000.19 1398.75,1001.25C1399.53,1002.31 1400.21,1002.89 1399.69,1003.25C1399.17,1003.61 1397.45,1003.56 1395.62,1003.44C1393.8,1003.31 1390.83,1002.97 1388.75,1002.5C1386.67,1002.03 1384.48,1001.56 1383.12,1000.62C1381.77,999.69 1380.83,997.92 1380.62,996.88ZM1365.94,986.25C1366.35,986.56 1367.89,987.4 1368.44,988.12C1368.99,988.85 1369.3,989.79 1369.25,990.62C1369.2,991.46 1369.04,992.5 1368.12,993.12C1367.21,993.75 1364.48,994.17 1363.75,994.38M1355,1013.12C1355.99,1012.08 1358.65,1011.09 1361.25,1010.62C1363.85,1010.16 1367.5,1010 1370.62,1010.31C1373.75,1010.62 1376.77,1011.61 1380,1012.5C1383.23,1013.39 1386.88,1014.58 1390,1015.62C1393.12,1016.67 1396.35,1017.71 1398.75,1018.75C1401.15,1019.79 1403.28,1020.83 1404.38,1021.88C1405.47,1022.92 1405.52,1023.85 1405.31,1025C1405.1,1026.15 1404.43,1027.79 1403.12,1028.75C1401.82,1029.71 1399.69,1030.33 1397.5,1030.75C1395.31,1031.17 1392.92,1031.38 1390,1031.25C1387.08,1031.12 1383.23,1030.62 1380,1030C1376.77,1029.38 1373.54,1028.44 1370.62,1027.5C1367.71,1026.56 1364.69,1025.52 1362.5,1024.38C1360.31,1023.23 1358.7,1021.88 1357.5,1020.62C1356.3,1019.38 1355.73,1018.12 1355.31,1016.88C1354.9,1015.62 1354.01,1014.17 1355,1013.12ZM1358.12,1013.44C1360.21,1013.7 1366.46,1014.11 1370.62,1015C1374.79,1015.89 1379.27,1017.5 1383.12,1018.75C1386.98,1020 1391.15,1021.44 1393.75,1022.5C1396.35,1023.56 1397.69,1024.29 1398.75,1025.12C1399.81,1025.96 1400.23,1026.67 1400.12,1027.5C1400.02,1028.33 1398.46,1029.69 1398.12,1030.12M1367.5,1003.12C1367.14,1003.65 1365.83,1005.1 1365.31,1006.25C1364.79,1007.4 1364.53,1009.38 1364.38,1010M1358.12,1022.5C1357.86,1023.02 1356.88,1024.48 1356.56,1025.62C1356.25,1026.77 1356.3,1028.75 1356.25,1029.38" fill="none" stroke="#1d1d1b" stroke-width="1.6" stroke-linecap="round" stroke-linejoin="round"/>
<g transform="translate(1330 960) scale(0.075)" stroke="#1d1d1b" stroke-width="21.33">
<ellipse cx="282" cy="668" rx="90" ry="112" transform="rotate(-20 282 668)" fill="#fff"/>
<ellipse cx="236" cy="688" rx="90" ry="118" transform="rotate(-18 236 688)" fill="#e6332a"/>
<ellipse cx="1190" cy="945" rx="175" ry="102" transform="rotate(-3 1190 945)" fill="#e6332a"/>
<path d="M315,920 L860,1140 L745,1425 L200,1205 Z" fill="#ffed00" stroke-linejoin="miter"/>
</g>
</g>
<path d="M1273.8,1063.8 L1343,1051.2" fill="none" stroke="#e6332a" stroke-width="2"/>
<path d="M1339.38,1040.62L1360,1048.5L1343.5,1062.38Z" fill="#e6332a"/>
<text transform="matrix(0.3448 0 0 0.3750 889.27 701.55)" font-family="'Liberation Sans', sans-serif" font-weight="normal" font-size="100" fill="#1d1d1b" stroke="#fff" stroke-width="4.17" stroke-linejoin="round">(BRAKE)</text>
<text transform="matrix(0.3404 0 0 0.3750 913.89 958.25)" font-family="'Liberation Sans', sans-serif" font-weight="normal" font-size="100" fill="#1d1d1b" stroke="#fff" stroke-width="4.19" stroke-linejoin="round">(TAIL)</text>
<g>
<text transform="matrix(0.3109 0 0 0.3387 1069.93 1194.50)" font-family="'Liberation Sans', sans-serif" font-weight="normal" font-size="100" fill="#1d1d1b" stroke="#fff" stroke-width="3.08" stroke-linejoin="round">(Tail</text>
<text transform="matrix(0.3082 0 0 0.3387 1133.27 1194.50)" font-family="'Liberation Sans', sans-serif" font-weight="normal" font-size="100" fill="#1d1d1b" stroke="#fff" stroke-width="3.09" stroke-linejoin="round">&amp;</text>
<text transform="matrix(0.3116 0 0 0.3387 1160.27 1194.50)" font-family="'Liberation Sans', sans-serif" font-weight="normal" font-size="100" fill="#1d1d1b" stroke="#fff" stroke-width="3.08" stroke-linejoin="round">number</text>
</g>
<g>
<text transform="matrix(0.3034 0 0 0.3387 1069.68 1233.00)" font-family="'Liberation Sans', sans-serif" font-weight="normal" font-size="100" fill="#1d1d1b" stroke="#fff" stroke-width="3.11" stroke-linejoin="round">plate</text>
<text transform="matrix(0.3037 0 0 0.3387 1141.63 1233.00)" font-family="'Liberation Sans', sans-serif" font-weight="normal" font-size="100" fill="#1d1d1b" stroke="#fff" stroke-width="3.11" stroke-linejoin="round">light)</text>
</g>
</svg>
</body>
</html>
